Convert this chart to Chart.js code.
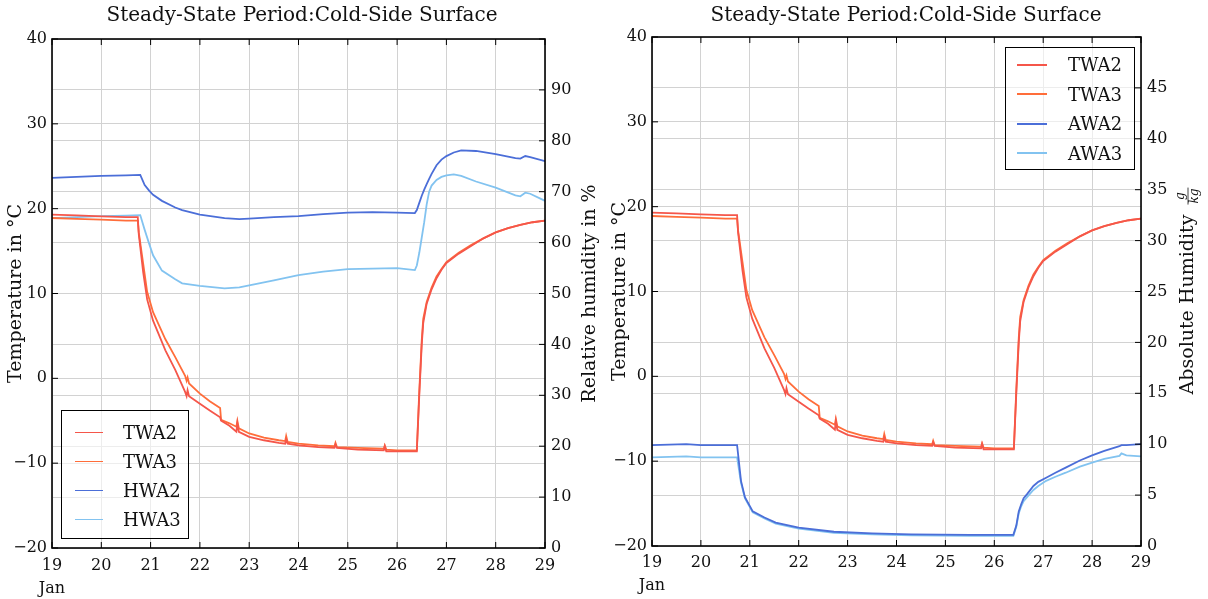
<!DOCTYPE html>
<html>
<head>
<meta charset="utf-8">
<script src="https://cdn.jsdelivr.net/npm/chart.js@4.4.1/dist/chart.umd.min.js"></script>
<style>
  body { margin: 0; background: #fff; }
  #wrap { position: relative; width: 1208px; height: 599px; }
  #wrap canvas { position: absolute; top: 0; }
  .legend {
    position: absolute; box-sizing: border-box;
    border: 1.5px solid #000; background: rgba(255,255,255,0.6);
    font: 18px "DejaVu Serif", serif; color: #111;
  }
  .legend .row { display: flex; align-items: center; }
  .legend .swatch { display: inline-block; height: 1.6px; }
</style>
</head>
<body>
<div id="wrap">
  <canvas id="leftChart" width="604" height="599" style="left:0"></canvas>
  <canvas id="rightChart" width="604" height="599" style="left:604px"></canvas>
</div>
<script>
// --- data (days in January) ---
const dayTicks = [19, 20, 21, 22, 23, 24, 25, 26, 27, 28, 29];

// wall surface temperature, degC
const tempDays = [19.0, 19.5, 20.0, 20.5, 20.74, 20.76, 20.85, 20.93, 21.05, 21.3, 21.5, 21.7, 21.73, 21.75, 21.78,
  22.0, 22.2, 22.41, 22.43, 22.6, 22.74, 22.76, 22.79, 23.0, 23.3, 23.6, 23.73, 23.75, 23.78, 24.0, 24.4,
  24.73, 24.75, 24.78, 25.2, 25.73, 25.75, 25.78, 26.0, 26.4, 26.45, 26.5, 26.53, 26.6, 26.7, 26.8, 26.9, 27.0,
  27.25, 27.5, 27.75, 28.0, 28.25, 28.5, 28.75, 29.0];
const twa2 = [19.3, 19.2, 19.1, 19.0, 19.0, 17.0, 12.5, 9.3, 6.8, 3.3, 1.0, -1.6, -2.1, -1.4, -2.1,
  -3.0, -3.8, -4.6, -5.0, -5.6, -6.3, -5.3, -6.3, -6.9, -7.3, -7.6, -7.7, -7.2, -7.7, -7.9, -8.1,
  -8.2, -7.8, -8.2, -8.4, -8.5, -8.0, -8.6, -8.6, -8.6, -2.0, 4.0, 6.5, 8.8, 10.5, 11.8, 12.8, 13.6,
  14.7, 15.6, 16.5, 17.2, 17.7, 18.1, 18.4, 18.6];
const twa3 = [18.9, 18.8, 18.7, 18.6, 18.6, 17.2, 13.5, 10.2, 7.8, 4.6, 2.5, 0.3, -0.3, 0.1, -0.6,
  -1.8, -2.7, -3.5, -4.9, -5.3, -5.7, -5.0, -5.9, -6.5, -7.0, -7.3, -7.4, -6.8, -7.5, -7.7, -7.9,
  -8.0, -7.6, -8.1, -8.2, -8.3, -7.9, -8.4, -8.5, -8.5, -1.5, 4.5, 7.0, 9.0, 10.7, 12.0, 12.9, 13.7,
  14.8, 15.7, 16.5, 17.2, 17.7, 18.1, 18.4, 18.6];

// relative humidity, %
const rhDays = [19.0, 19.5, 20.0, 20.5, 20.79, 20.88, 20.97, 21.05, 21.23, 21.5, 21.64, 22.0, 22.5, 22.8, 23.0,
  23.5, 24.0, 24.5, 25.0, 25.5, 26.0, 26.36, 26.4, 26.45, 26.5, 26.55, 26.6, 26.65, 26.7, 26.8, 26.9,
  27.0, 27.15, 27.3, 27.6, 28.0, 28.4, 28.5, 28.6, 28.7, 29.0];
const hwa2 = [72.7, 72.9, 73.1, 73.2, 73.3, 71.3, 70.2, 69.4, 68.2, 66.9, 66.4, 65.5, 64.8, 64.6, 64.7,
  65.0, 65.2, 65.6, 65.9, 66.0, 65.9, 65.8, 66.4, 67.8, 69.2, 70.4, 71.5, 72.5, 73.5, 75.2, 76.3,
  77.0, 77.7, 78.1, 78.0, 77.4, 76.6, 76.5, 77.0, 76.8, 76.0];
const hwa3 = [64.8, 65.0, 65.2, 65.3, 65.4, 62.5, 59.8, 57.5, 54.5, 52.8, 52.0, 51.5, 51.0, 51.2, 51.6,
  52.6, 53.6, 54.3, 54.8, 54.9, 55.0, 54.6, 55.5, 58.0, 61.0, 64.0, 67.5, 70.0, 71.2, 72.3, 72.9,
  73.2, 73.4, 73.1, 72.0, 70.8, 69.3, 69.1, 69.8, 69.6, 68.2];

// absolute humidity, g/kg
const ahDays = [19.0, 19.7, 20.0, 20.74, 20.82, 20.9, 21.06, 21.3, 21.53, 22.0, 22.72, 23.5, 24.3, 25.5,
  26.39, 26.45, 26.5, 26.55, 26.6, 26.67, 26.8, 26.9, 27.06, 27.25, 27.46, 27.75, 28.0, 28.25, 28.56,
  28.6, 28.7, 29.0];
const awa2 = [9.9, 10.0, 9.9, 9.9, 6.4, 4.8, 3.4, 2.8, 2.3, 1.8, 1.4, 1.25, 1.15, 1.1,
  1.1, 2.0, 3.4, 4.1, 4.7, 5.1, 5.9, 6.3, 6.7, 7.2, 7.7, 8.4, 8.9, 9.35, 9.8,
  9.9, 9.9, 10.0];
const awa3 = [8.7, 8.8, 8.7, 8.7, 6.2, 4.7, 3.3, 2.7, 2.2, 1.7, 1.3, 1.15, 1.05, 1.0,
  1.0, 1.9, 3.2, 3.9, 4.4, 4.8, 5.5, 5.9, 6.4, 6.8, 7.2, 7.8, 8.2, 8.55, 8.85,
  9.1, 8.9, 8.8];

const RED = '#f5564a', ORANGE = '#ff6d3a', BLUE = '#4b6ed8', LIGHT = '#82c3f0';
const FONT = 'DejaVu Serif';
const GRID = '#d2d2d2';

function toPoints(xs, ys) {
  return xs.map((x, i) => ({ x: x, y: ys[i] }));
}
function line(label, xs, ys, color, axis) {
  return {
    label: label, data: toPoints(xs, ys), yAxisID: axis,
    borderColor: color, backgroundColor: color,
    borderWidth: 1.8, pointRadius: 0, tension: 0, fill: false
  };
}
const minus = v => (v < 0 ? '\u2212' + Math.abs(v) : String(v));

// black frame + inward tick marks (matplotlib look)
const framePlugin = {
  id: 'frame',
  afterDraw(chart) {
    const { ctx, chartArea: a, scales } = chart;
    ctx.save();
    ctx.strokeStyle = '#000';
    ctx.lineWidth = 1;
    ctx.beginPath();
    scales.x.ticks.forEach(t => {
      const px = scales.x.getPixelForValue(t.value);
      ctx.moveTo(px, a.bottom); ctx.lineTo(px, a.bottom - 6);
      ctx.moveTo(px, a.top); ctx.lineTo(px, a.top + 6);
    });
    scales.y.ticks.forEach(t => {
      const py = scales.y.getPixelForValue(t.value);
      ctx.moveTo(a.left, py); ctx.lineTo(a.left + 6, py);
    });
    scales.y1.ticks.forEach(t => {
      const py = scales.y1.getPixelForValue(t.value);
      ctx.moveTo(a.right, py); ctx.lineTo(a.right - 6, py);
    });
    ctx.stroke();
    ctx.lineWidth = 1.6;
    ctx.strokeRect(a.left, a.top, a.right - a.left, a.bottom - a.top);
    ctx.restore();
  }
};

// right-hand axis title, reading bottom-to-top like the left one
const sideTitlePlugin = {
  id: 'sideTitle',
  afterDraw(chart, args, opts) {
    const { ctx, chartArea: a } = chart;
    ctx.save();
    ctx.translate(opts.x, (a.top + a.bottom) / 2);
    ctx.rotate(-Math.PI / 2);
    ctx.fillStyle = '#111';
    ctx.textBaseline = 'middle';
    ctx.font = '19px "' + FONT + '"';
    if (!opts.fraction) {
      ctx.textAlign = 'center';
      ctx.fillText(opts.text, 0, 0);
    } else {
      const w = ctx.measureText(opts.text).width;
      ctx.font = 'italic 12px "' + FONT + '"';
      const fw = ctx.measureText(opts.fraction[1]).width;
      const start = -(w + 5 + fw) / 2;
      ctx.textAlign = 'left';
      ctx.font = '19px "' + FONT + '"';
      ctx.fillText(opts.text, start, 0);
      const fx = start + w + 5 + fw / 2;
      ctx.font = 'italic 12px "' + FONT + '"';
      ctx.textAlign = 'center';
      ctx.fillText(opts.fraction[0], fx, -7);
      ctx.fillText(opts.fraction[1], fx, 7);
      ctx.strokeStyle = '#111';
      ctx.lineWidth = 0.8;
      ctx.beginPath();
      ctx.moveTo(fx - fw / 2 - 1, 0); ctx.lineTo(fx + fw / 2 + 1, 0);
      ctx.stroke();
    }
    ctx.restore();
  }
};

function makeChart(id, datasets, cfg) {
  const tickFont = { family: FONT, size: 16 };
  return new Chart(document.getElementById(id), {
    type: 'line',
    data: { datasets: datasets },
    plugins: [framePlugin, sideTitlePlugin],
    options: {
      responsive: false,
      animation: false,
      layout: { padding: 0 },
      plugins: {
        legend: { display: false },
        tooltip: { enabled: false },
        title: {
          display: true, text: 'Steady-State Period:Cold-Side Surface', color: '#111',
          font: { family: FONT, size: 20, weight: 'normal' },
          padding: { top: 4, bottom: cfg.titleGap }
        },
        sideTitle: cfg.side
      },
      scales: {
        x: {
          type: 'linear', min: 19, max: 29,
          afterBuildTicks: s => { s.ticks = dayTicks.map(v => ({ value: v })); },
          ticks: {
            color: '#111', font: { family: FONT, size: 16, lineHeight: 1.45 },
            padding: cfg.xPad, maxRotation: 0,
            callback: v => (v === 19 ? ['19', 'Jan'] : String(v))
          },
          grid: { color: GRID, drawTicks: false },
          border: { display: false },
          afterFit: s => { s.height = cfg.xHeight; }
        },
        y: {
          position: 'left', min: -20, max: 40,
          ticks: { stepSize: 10, color: '#111', font: tickFont, padding: 5, callback: minus },
          grid: { color: GRID, drawTicks: false },
          border: { display: false },
          title: {
            display: true, text: 'Temperature in \u00b0C', color: '#111',
            font: { family: FONT, size: 19 }, padding: { top: 5, bottom: 0 }
          },
          afterFit: s => { s.width = cfg.leftWidth; }
        },
        y1: {
          position: 'right', min: 0, max: cfg.rightMax,
          ticks: {
            stepSize: cfg.rightStep, color: '#111', font: tickFont, padding: 6,
            callback: v => (v === cfg.rightMax ? '' : String(v))
          },
          grid: { color: GRID, drawTicks: false },
          border: { display: false },
          afterFit: s => { s.width = cfg.rightWidth; }
        }
      }
    }
  });
}

function buildLegend(chart, box) {
  const div = document.createElement('div');
  div.className = 'legend';
  Object.assign(div.style, {
    left: box.left + 'px', top: box.top + 'px', width: box.width + 'px',
    paddingTop: box.padTop + 'px', paddingBottom: box.padBottom + 'px'
  });
  chart.data.datasets.forEach(ds => {
    const row = document.createElement('div');
    row.className = 'row';
    row.style.height = box.rowH + 'px';
    const sw = document.createElement('span');
    sw.className = 'swatch';
    sw.style.background = ds.borderColor;
    sw.style.width = box.swatch + 'px';
    sw.style.marginLeft = box.swLeft + 'px';
    sw.style.marginRight = box.gap + 'px';
    const txt = document.createElement('span');
    txt.textContent = ds.label;
    row.appendChild(sw);
    row.appendChild(txt);
    div.appendChild(row);
  });
  document.getElementById('wrap').appendChild(div);
}

// 1. left panel: temperature + relative humidity
const leftChart = makeChart('leftChart', [
  line('TWA2', tempDays, twa2, RED, 'y'),
  line('TWA3', tempDays, twa3, ORANGE, 'y'),
  line('HWA2', rhDays, hwa2, BLUE, 'y1'),
  line('HWA3', rhDays, hwa3, LIGHT, 'y1')
], {
  titleGap: 11, xHeight: 51, xPad: 6, leftWidth: 52, rightWidth: 59,
  rightMax: 100, rightStep: 10,
  side: { x: 590, text: 'Relative humidity in %' }
});

// 2. right panel: temperature + absolute humidity
const rightChart = makeChart('rightChart', [
  line('TWA2', tempDays, twa2, RED, 'y'),
  line('TWA3', tempDays, twa3, ORANGE, 'y'),
  line('AWA2', ahDays, awa2, BLUE, 'y1'),
  line('AWA3', ahDays, awa3, LIGHT, 'y1')
], {
  titleGap: 9, xHeight: 53, xPad: 5, leftWidth: 48, rightWidth: 67,
  rightMax: 50, rightStep: 5,
  side: { x: 584, text: 'Absolute Humidity ', fraction: ['g', 'kg'] }
});

buildLegend(leftChart, { left: 61, top: 410, width: 128, padTop: 7, padBottom: 4, rowH: 29, swatch: 28, swLeft: 13, gap: 20 });
buildLegend(rightChart, { left: 1005, top: 47, width: 130, padTop: 2, padBottom: 1, rowH: 29.5, swatch: 30, swLeft: 11, gap: 21 });
</script>
</body>
</html>
